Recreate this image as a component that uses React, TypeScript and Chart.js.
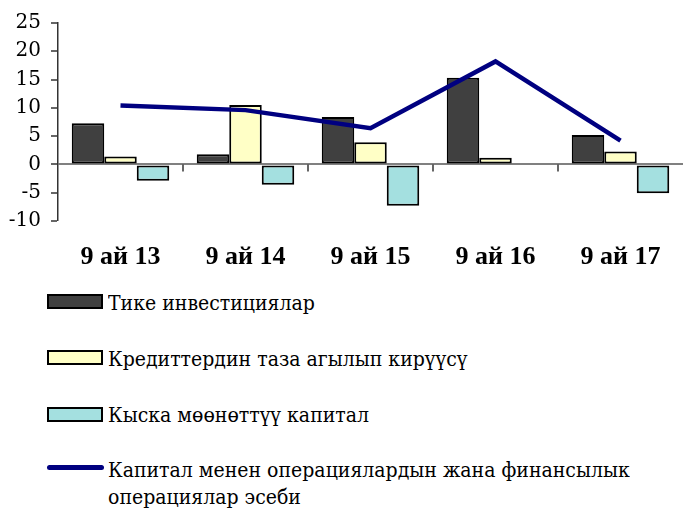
import React, { useEffect, useRef } from 'react';
import { Chart, registerables } from 'chart.js';
Chart.register(...registerables);

const categories = ['9 ай 13', '9 ай 14', '9 ай 15', '9 ай 16', '9 ай 17'];
const directInvestment = [7.3, 1.8, 8.4, 15.3, 5.2];
const loansNetInflow = [1.4, 10.5, 3.9, 1.2, 2.3];
const shortTermCapital = [-2.9, -3.6, -7.3, null, -5.1];
const capitalAccount = [10.4, 9.6, 6.4, 18.2, 4.2];
const yMin = -10;
const yMax = 25;
const yStep = 5;
const seriesNames = [
  'Тике инвестициялар',
  'Кредиттердин таза агылып кирүүсү',
  'Кыска мөөнөттүү капитал',
  'Капитал менен операциялардын жана финансылык операциялар эсеби',
];
const legendLines = [
  ['Тике инвестициялар'],
  ['Кредиттердин таза агылып кирүүсү'],
  ['Кыска мөөнөттүү капитал'],
  ['Капитал менен операциялардын жана финансылык', 'операциялар эсеби'],
];

const SERIF_BOLD = '"Liberation Serif", "Times New Roman", serif';
const SERIF_REG = '"DejaVu Serif", "Noto Serif", serif';
const COLORS = ['#404040', '#FFFFC6', '#A4E0E0', '#000080'];

export default function App() {
  const ref = useRef<HTMLCanvasElement>(null);
  useEffect(() => {
    const canvas = ref.current!;
    const catTicks = {
      id: 'catTicks',
      beforeDatasetsDraw(chart: any) {
        const x = chart.scales.x;
        const y = chart.scales.y;
        const ctx = chart.ctx;
        const y0 = y.getPixelForValue(0);
        ctx.save();
        ctx.strokeStyle = '#333';
        ctx.lineWidth = 1.5;
        for (let i = 1; i < categories.length; i++) {
          const px = (x.getPixelForValue(i - 1) + x.getPixelForValue(i)) / 2;
          ctx.beginPath();
          ctx.moveTo(px, y0);
          ctx.lineTo(px, y0 + 7);
          ctx.stroke();
        }
        ctx.restore();
      },
    };
    const barCommon = {
      borderColor: '#000',
      borderWidth: 2,
      borderSkipped: false,
      categoryPercentage: 0.78,
      barPercentage: 1,
      order: 1,
    };
    const chart = new Chart(canvas, {
      type: 'bar',
      data: {
        labels: categories,
        datasets: [
          {
            type: 'line',
            label: seriesNames[3],
            data: capitalAccount,
            borderColor: COLORS[3],
            backgroundColor: COLORS[3],
            borderWidth: 4.5,
            pointRadius: 0,
            tension: 0,
            fill: false,
            order: 0,
          } as any,
          { ...barCommon, label: seriesNames[0], data: directInvestment, backgroundColor: COLORS[0] },
          { ...barCommon, label: seriesNames[1], data: loansNetInflow, backgroundColor: COLORS[1] },
          { ...barCommon, label: seriesNames[2], data: shortTermCapital, backgroundColor: COLORS[2] },
        ],
      },
      options: {
        responsive: false,
        animation: false,
        layout: { padding: { top: 23, left: 0, right: 0, bottom: 0 } },
        plugins: { legend: { display: false }, tooltip: { enabled: false } },
        scales: {
          x: {
            grid: { display: false },
            border: { display: false },
            ticks: {
              font: { family: SERIF_BOLD, size: 26, weight: 'bold' },
              color: '#000',
              padding: 13,
              maxRotation: 0,
              autoSkip: false,
            },
            afterFit: (s: any) => {
              s.height = 59;
            },
          },
          y: {
            min: yMin,
            max: yMax,
            ticks: {
              stepSize: yStep,
              font: { family: SERIF_REG, size: 20, weight: 'normal' },
              color: '#000',
              padding: 10,
              autoSkip: false,
            },
            grid: {
              color: (c: any) => (c.tick && c.tick.value === 0 ? '#808080' : 'rgba(0,0,0,0)'),
              lineWidth: (c: any) => (c.tick && c.tick.value === 0 ? 2 : 0),
              tickColor: '#333',
              tickWidth: 1.5,
              tickLength: 7,
            },
            border: { color: '#333', width: 1.5 },
            afterFit: (s: any) => {
              s.width = 58;
            },
          },
        },
      } as any,
      plugins: [catTicks],
    });
    return () => chart.destroy();
  }, []);

  const capTops = [295, 351, 407, 462];
  const markerCenters = [301, 357, 414, 467];
  return (
    <div style={{ position: 'fixed', left: 0, top: 0, width: 683, height: 511, background: '#fff', overflow: 'hidden' }}>
      <canvas ref={ref} width={683} height={280} style={{ position: 'absolute', left: 0, top: 0, width: 683, height: 280 }} />
      {legendLines.map((lines, i) => (
        <React.Fragment key={i}>
          {i < 3 ? (
            <div
              style={{
                position: 'absolute',
                left: 47,
                top: markerCenters[i] - 7,
                width: 56,
                height: 15,
                boxSizing: 'border-box',
                border: '2px solid #000',
                background: COLORS[i],
              }}
            />
          ) : (
            <div
              style={{
                position: 'absolute',
                left: 47,
                top: markerCenters[i] - 2,
                width: 57,
                height: 5,
                borderRadius: 3,
                background: COLORS[3],
              }}
            />
          )}
          <div
            style={{
              position: 'absolute',
              left: 108,
              top: capTops[i] - 5,
              fontSize: 21,
              lineHeight: '27px',
              fontFamily: SERIF_REG,
              color: '#000',
              whiteSpace: 'nowrap',
              transform: 'scaleX(0.9)',
              transformOrigin: '0 0',
            }}
          >
            {lines.map((l, j) => (
              <div key={j}>{l}</div>
            ))}
          </div>
        </React.Fragment>
      ))}
    </div>
  );
}
